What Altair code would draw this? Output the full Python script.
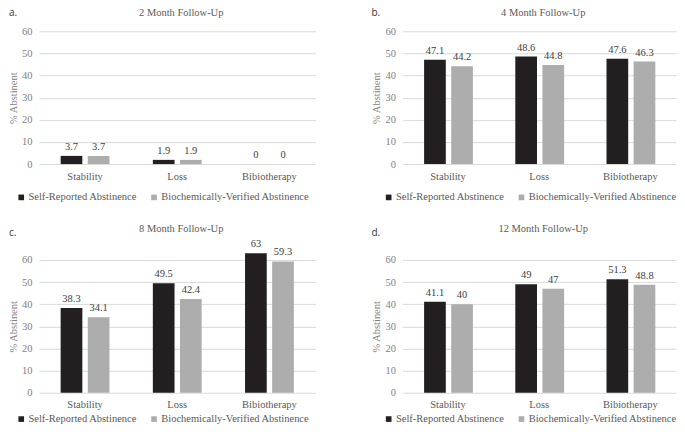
import altair as alt
import pandas as pd

categories = ["Stability", "Loss", "Bibiotherapy"]
series = ["Self-Reported Abstinence", "Biochemically-Verified Abstinence"]
panel_titles = ["2 Month Follow-Up", "4 Month Follow-Up", "8 Month Follow-Up", "12 Month Follow-Up"]
panel_letters = ["a.", "b.", "c.", "d."]
self_reported = [[3.7, 1.9, 0], [47.1, 48.6, 47.6], [38.3, 49.5, 63], [41.1, 49, 51.3]]
biochem_verified = [[3.7, 1.9, 0], [44.2, 44.8, 46.3], [34.1, 42.4, 59.3], [40, 47, 48.8]]
y_ticks = [0, 10, 20, 30, 40, 50, 60]
bar_colors = ["#231f20", "#adadad"]

SERIF = "Liberation Serif, Times New Roman, serif"
FS = 10.5


def panel(i, width, left_col, top_row):
    rows = []
    for c, cat in enumerate(categories):
        for s, vals in zip(series, [self_reported[i], biochem_verified[i]]):
            v = vals[c]
            rows.append({"Category": cat, "Series": s, "Value": v, "Label": f"{v:g}"})
    df = pd.DataFrame(rows)
    base = alt.Chart(df)
    x = alt.X("Category:N", sort=categories,
              scale=alt.Scale(paddingInner=0, paddingOuter=0),
              axis=alt.Axis(title=None, labelAngle=0, ticks=False, domain=False,
                            labelFont=SERIF, labelFontSize=FS, labelColor="#595959",
                            labelPadding=7))
    xo = alt.XOffset("Series:N", sort=series,
                     scale=alt.Scale(paddingInner=0.2, paddingOuter=0.8))
    y = alt.Y("Value:Q", scale=alt.Scale(domain=[0, 60], nice=False, zero=True),
              axis=alt.Axis(values=y_ticks, title="% Abstinent", domain=False, ticks=False,
                            grid=True, gridColor="#d9d9d9", gridWidth=1,
                            labelFont=SERIF, labelFontSize=FS, labelColor="#808080",
                            labelPadding=7, titleFont=SERIF, titleFontSize=FS,
                            titleFontWeight="normal", titleColor="#808080",
                            titlePadding=3))
    legend = alt.Legend(orient="none", legendX=-23 if left_col else -19,
                        legendY=161 if top_row else 154,
                        direction="horizontal", title=None, symbolType="square",
                        symbolSize=32, symbolStrokeWidth=0, labelFont=SERIF,
                        labelFontSize=FS, labelColor="#595959", columnPadding=11,
                        labelOffset=2, labelLimit=300)
    bars = base.mark_bar().encode(
        x=x, xOffset=xo, y=y,
        color=alt.Color("Series:N", sort=series,
                        scale=alt.Scale(domain=series, range=bar_colors),
                        legend=legend))
    labels = base.mark_text(baseline="bottom", dy=-4, font=SERIF, fontSize=FS,
                            color="#404040").encode(x=x, xOffset=xo, y=y, text="Label:N")
    letter = alt.Chart(pd.DataFrame({"t": [panel_letters[i]]})).mark_text(
        font="Open Sans", fontSize=10, color="#333333", align="left", baseline="middle"
    ).encode(x=alt.value(-30 if left_col else -31), y=alt.value(-18 if top_row else -27),
             text="t:N")
    title = alt.Chart(pd.DataFrame({"t": [panel_titles[i]]})).mark_text(
        font=SERIF, fontSize=FS, color="#595959", align="center", baseline="middle"
    ).encode(x=alt.value(width / 2 + 4), y=alt.value(-18 if top_row else -31),
             text="t:N")
    return alt.layer(bars, labels, letter, title).properties(width=width, height=133)


chart = alt.concat(
    panel(0, 277, True, True), panel(1, 274, False, True),
    panel(2, 277, True, False), panel(3, 274, False, False),
    columns=2, spacing={"row": 96, "column": 87}, bounds="flush"
).resolve_scale(
    color="independent"
).properties(
    padding={"left": 0, "top": 0, "right": 0, "bottom": 0}
).configure_view(stroke=None)

chart.save("out.html", embed_options={"renderer": "svg", "actions": False})
